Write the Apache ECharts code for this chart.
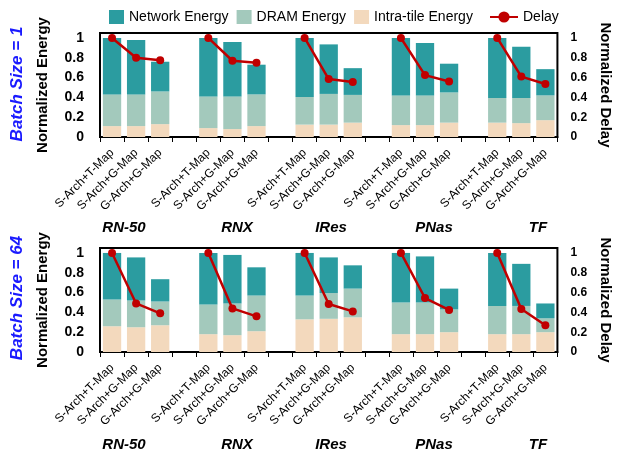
<!DOCTYPE html>
<html>
<head>
<meta charset="utf-8">
<script src="https://cdn.jsdelivr.net/npm/echarts@6/dist/echarts.min.js"></script>
<style>
  html, body { margin: 0; padding: 0; background: #fff; }
  #chart { width: 621px; height: 458px; }
</style>
</head>
<body>
<div id="chart"></div>
<script>
const configs = ['S-Arch+T-Map', 'S-Arch+G-Map', 'G-Arch+G-Map']
const workloads = ['RN-50', 'RNX', 'IRes', 'PNas', 'TF']

// batch size = 1 (per workload: 3 configs)
const b1Intra = [0.11, 0.11, 0.13, 0.09, 0.08, 0.11, 0.125, 0.125, 0.145, 0.12, 0.12, 0.145, 0.145, 0.14, 0.17]
const b1Dram = [0.32, 0.32, 0.33, 0.32, 0.33, 0.32, 0.28, 0.31, 0.28, 0.30, 0.30, 0.305, 0.25, 0.255, 0.25]
const b1Net = [0.57, 0.55, 0.30, 0.59, 0.55, 0.30, 0.595, 0.50, 0.27, 0.58, 0.53, 0.29, 0.605, 0.515, 0.265]
const b1Delay = [1, 0.80, 0.775, 1, 0.77, 0.75, 1, 0.585, 0.555, 1, 0.625, 0.56, 1, 0.61, 0.535]

// batch size = 64
const b64Intra = [0.26, 0.25, 0.27, 0.18, 0.17, 0.21, 0.33, 0.335, 0.35, 0.18, 0.18, 0.20, 0.18, 0.18, 0.20]
const b64Dram = [0.27, 0.27, 0.24, 0.30, 0.32, 0.36, 0.24, 0.26, 0.29, 0.32, 0.32, 0.23, 0.285, 0.285, 0.14]
const b64Net = [0.47, 0.435, 0.225, 0.52, 0.49, 0.285, 0.43, 0.36, 0.235, 0.50, 0.465, 0.21, 0.535, 0.425, 0.15]
const b64Delay = [1, 0.49, 0.39, 1, 0.44, 0.36, 1, 0.485, 0.41, 1, 0.545, 0.425, 1, 0.435, 0.27]

const FONT = 'Liberation Sans, Arial, sans-serif'
const C_NET = '#2b9ca0'
const C_DRAM = '#a3c9bc'
const C_INTRA = '#f3d9bd'
const C_DELAY = '#c00000'

// put an empty slot between workload groups
const withGaps = (arr, gap) => {
  const out = []
  arr.forEach((v, i) => {
    out.push(v)
    if (i % 3 === 2 && i < arr.length - 1) out.push(gap)
  })
  return out
}

const xLabels = withGaps(workloads.flatMap(() => configs), '')

const chart = echarts.init(document.getElementById('chart'))

const grids = [
  { left: 100, right: 52, top: 33, bottom: 321 },
  { left: 100, right: 52, top: 248, bottom: 106 },
]

const xAxes = grids.map((_, i) => ({
  gridIndex: i,
  type: 'category',
  data: xLabels,
  axisLine: { lineStyle: { color: '#000', width: 2 } },
  axisTick: { show: true, length: 5, lineStyle: { color: '#000' } },
  axisLabel: { rotate: 45, interval: 0, fontSize: 12, color: '#000', margin: 14, fontFamily: FONT },
}))

const yAxes = []
grids.forEach((_, i) => {
  yAxes.push({
    gridIndex: i,
    type: 'value',
    min: 0,
    max: 1.05,
    interval: 0.2,
    name: 'Normalized Energy',
    nameLocation: 'middle',
    nameGap: 50,
    nameTextStyle: { fontSize: 15, fontWeight: 'bold', color: '#000', fontFamily: FONT },
    axisLine: { show: false },
    axisTick: { show: false },
    splitLine: { show: false },
    axisLabel: { showMaxLabel: false, fontSize: 14, fontWeight: 'bold', color: '#000', margin: 16, fontFamily: FONT },
  })
  yAxes.push({
    gridIndex: i,
    type: 'value',
    position: 'right',
    min: 0,
    max: 1.05,
    interval: 0.2,
    name: 'Normalized Delay',
    nameLocation: 'middle',
    nameRotate: -90,
    nameGap: 34,
    nameTextStyle: { fontSize: 15, fontWeight: 'bold', color: '#000', fontFamily: FONT },
    axisLine: { show: false },
    axisTick: { show: false },
    splitLine: { show: false },
    axisLabel: { showMaxLabel: false, fontSize: 12, fontWeight: 'bold', color: '#000', margin: 13, fontFamily: FONT },
  })
})

const panels = [
  { intra: b1Intra, dram: b1Dram, net: b1Net, delay: b1Delay },
  { intra: b64Intra, dram: b64Dram, net: b64Net, delay: b64Delay },
]

const series = []
panels.forEach((p, i) => {
  const barBase = { type: 'bar', xAxisIndex: i, yAxisIndex: i * 2, stack: 'e' + i, barWidth: '76%' }
  series.push({ ...barBase, name: 'Intra-tile Energy', data: withGaps(p.intra, '-'), itemStyle: { color: C_INTRA } })
  series.push({ ...barBase, name: 'DRAM Energy', data: withGaps(p.dram, '-'), itemStyle: { color: C_DRAM } })
  series.push({ ...barBase, name: 'Network Energy', data: withGaps(p.net, '-'), itemStyle: { color: C_NET } })
  series.push({
    type: 'line',
    name: 'Delay',
    xAxisIndex: i,
    yAxisIndex: i * 2 + 1,
    data: withGaps(p.delay, '-'),
    connectNulls: false,
    symbol: 'circle',
    symbolSize: 8,
    lineStyle: { color: C_DELAY, width: 2.5 },
    itemStyle: { color: C_DELAY },
    z: 5,
  })
})

const groupX = [124, 237, 331, 434, 538]
const graphics = []
;[228, 445].forEach((y) => {
  workloads.forEach((w, k) => {
    graphics.push({
      type: 'text',
      x: groupX[k],
      y: y,
      style: {
        text: w,
        font: 'italic bold 15px ' + FONT,
        fill: '#000',
        textAlign: 'center',
        textVerticalAlign: 'middle',
      },
    })
  })
})
;[['Batch Size = 1', 84], ['Batch Size = 64', 298]].forEach(([t, y]) => {
  graphics.push({
    type: 'text',
    x: 17,
    y: y,
    rotation: Math.PI / 2,
    style: {
      text: t,
      font: 'italic bold 17px ' + FONT,
      fill: '#1a1aff',
      textAlign: 'center',
      textVerticalAlign: 'middle',
    },
  })
})

const legendText = { fontSize: 14, color: '#000', fontFamily: FONT }

chart.setOption({
  animation: false,
  backgroundColor: '#fff',
  legend: [
    {
      data: [
        { name: 'Network Energy', icon: 'rect' },
        { name: 'DRAM Energy', icon: 'rect' },
        { name: 'Intra-tile Energy', icon: 'rect' },
      ],
      left: 104,
      top: 5,
      itemWidth: 15,
      itemHeight: 14,
      itemGap: 8,
      textStyle: legendText,
    },
    {
      data: ['Delay'],
      left: 484,
      top: 5,
      itemWidth: 28,
      itemHeight: 14,
      textStyle: legendText,
    },
  ],
  grid: grids.map((g) => ({ ...g, show: true, borderColor: '#000', borderWidth: 2 })),
  xAxis: xAxes,
  yAxis: yAxes,
  series: series,
  graphic: graphics,
})
</script>
</body>
</html>
